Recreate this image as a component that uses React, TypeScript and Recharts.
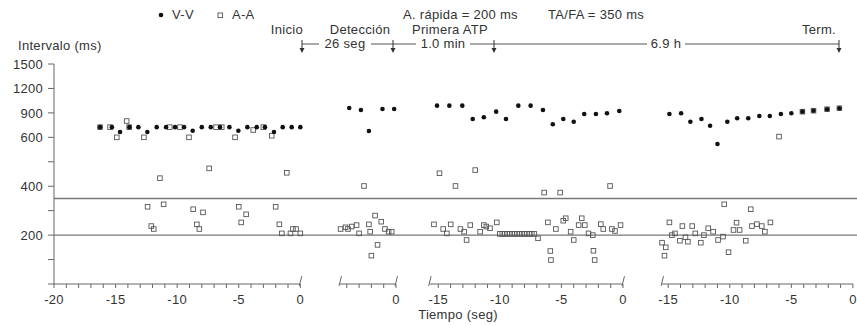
import React from 'react';
import { ScatterChart, Scatter, XAxis, YAxis, ReferenceLine } from 'recharts';

// ---------------- DATA (time in s relative to each event, interval in ms) ----------------
const panel1VV = [
  { t: -16.26, ms: 725 }, { t: -15.3, ms: 725 }, { t: -14.64, ms: 665 }, { t: -13.88, ms: 725 },
  { t: -13.15, ms: 725 }, { t: -12.42, ms: 665 }, { t: -11.66, ms: 725 }, { t: -10.9, ms: 725 },
  { t: -10.17, ms: 725 }, { t: -9.44, ms: 725 }, { t: -8.74, ms: 680 }, { t: -8.0, ms: 725 },
  { t: -7.27, ms: 725 }, { t: -6.52, ms: 725 }, { t: -5.76, ms: 725 }, { t: -5.03, ms: 680 },
  { t: -4.3, ms: 725 }, { t: -3.54, ms: 725 }, { t: -2.87, ms: 725 }, { t: -2.14, ms: 665 },
  { t: -1.43, ms: 725 }, { t: -0.7, ms: 725 }, { t: 0.0, ms: 725 },
];
const panel1AA = [
  { t: -16.26, ms: 725 }, { t: -15.45, ms: 725 }, { t: -14.9, ms: 600 }, { t: -14.1, ms: 800 },
  { t: -13.9, ms: 725 }, { t: -12.7, ms: 600 }, { t: -12.4, ms: 316 }, { t: -12.1, ms: 237 },
  { t: -11.9, ms: 225 }, { t: -11.4, ms: 433 }, { t: -11.1, ms: 326 }, { t: -10.6, ms: 725 },
  { t: -9.77, ms: 725 }, { t: -9.04, ms: 600 }, { t: -8.7, ms: 306 }, { t: -8.4, ms: 244 },
  { t: -8.2, ms: 225 }, { t: -7.9, ms: 293 }, { t: -7.4, ms: 473 }, { t: -6.84, ms: 725 },
  { t: -6.38, ms: 725 }, { t: -5.3, ms: 600 }, { t: -5.0, ms: 316 }, { t: -4.8, ms: 252 },
  { t: -4.4, ms: 285 }, { t: -3.82, ms: 690 }, { t: -3.0, ms: 725 }, { t: -2.32, ms: 620 },
  { t: -2.0, ms: 316 }, { t: -1.7, ms: 244 }, { t: -1.5, ms: 207 }, { t: -1.1, ms: 455 },
  { t: -0.8, ms: 207 }, { t: -0.6, ms: 225 }, { t: -0.35, ms: 225 }, { t: 0.0, ms: 207 },
];
const panel2VV = [
  { t: -3.8, ms: 960 }, { t: -2.85, ms: 936 }, { t: -2.2, ms: 678 }, { t: -1.1, ms: 948 }, { t: -0.15, ms: 948 },
];
const panel2AA = [
  { t: -4.5, ms: 225 }, { t: -4.1, ms: 232 }, { t: -3.9, ms: 225 }, { t: -3.6, ms: 235 },
  { t: -3.2, ms: 241 }, { t: -3.0, ms: 207 }, { t: -2.6, ms: 401 }, { t: -2.2, ms: 244 },
  { t: -2.1, ms: 214 }, { t: -2.0, ms: 116 }, { t: -1.7, ms: 280 }, { t: -1.5, ms: 160 },
  { t: -1.2, ms: 255 }, { t: -0.9, ms: 225 }, { t: -0.6, ms: 214 }, { t: -0.35, ms: 214 },
];
const panel3VV = [
  { t: -15.1, ms: 989 }, { t: -14.1, ms: 989 }, { t: -13.05, ms: 989 }, { t: -12.2, ms: 825 },
  { t: -11.3, ms: 846 }, { t: -10.3, ms: 915 }, { t: -9.5, ms: 825 }, { t: -8.5, ms: 989 },
  { t: -7.5, ms: 989 }, { t: -6.5, ms: 936 }, { t: -5.7, ms: 760 }, { t: -4.85, ms: 825 },
  { t: -4.0, ms: 792 }, { t: -3.15, ms: 887 }, { t: -2.2, ms: 887 }, { t: -1.3, ms: 895 },
  { t: -0.3, ms: 923 },
];
const panel3AA = [
  { t: -14.9, ms: 453 }, { t: -13.6, ms: 401 }, { t: -12.0, ms: 466 }, { t: -6.4, ms: 374 },
  { t: -5.1, ms: 374 }, { t: -1.05, ms: 401 },
  { t: -15.35, ms: 244 }, { t: -14.6, ms: 225 }, { t: -14.3, ms: 207 }, { t: -13.99, ms: 244 },
  { t: -13.2, ms: 225 }, { t: -12.9, ms: 214 }, { t: -12.7, ms: 180 }, { t: -12.4, ms: 241 },
  { t: -11.6, ms: 214 }, { t: -11.3, ms: 241 }, { t: -11.1, ms: 235 }, { t: -10.8, ms: 228 },
  { t: -10.25, ms: 252 },
  { t: -10.0, ms: 205 }, { t: -9.8, ms: 205 }, { t: -9.6, ms: 205 }, { t: -9.4, ms: 205 },
  { t: -9.2, ms: 205 }, { t: -9.0, ms: 205 }, { t: -8.8, ms: 205 }, { t: -8.6, ms: 205 },
  { t: -8.4, ms: 205 }, { t: -8.2, ms: 205 }, { t: -8.0, ms: 205 }, { t: -7.8, ms: 205 },
  { t: -7.6, ms: 205 }, { t: -7.4, ms: 205 }, { t: -7.2, ms: 205 },
  { t: -6.9, ms: 187 }, { t: -6.1, ms: 252 }, { t: -5.9, ms: 135 }, { t: -5.85, ms: 98 },
  { t: -5.45, ms: 225 }, { t: -4.85, ms: 259 }, { t: -4.65, ms: 269 }, { t: -4.25, ms: 214 },
  { t: -4.0, ms: 180 }, { t: -3.6, ms: 241 }, { t: -3.35, ms: 269 }, { t: -3.1, ms: 241 },
  { t: -2.8, ms: 207 }, { t: -2.45, ms: 200 }, { t: -2.4, ms: 136 }, { t: -2.3, ms: 98 },
  { t: -1.8, ms: 245 }, { t: -1.6, ms: 225 }, { t: -0.9, ms: 225 }, { t: -0.65, ms: 217 },
  { t: -0.2, ms: 241 },
];
const panel4VV = [
  { t: -14.9, ms: 887 }, { t: -13.95, ms: 895 }, { t: -13.2, ms: 792 }, { t: -12.3, ms: 825 },
  { t: -11.6, ms: 743 }, { t: -11.0, ms: 573 }, { t: -10.2, ms: 792 }, { t: -9.4, ms: 834 },
  { t: -8.5, ms: 834 }, { t: -7.6, ms: 862 }, { t: -6.75, ms: 862 }, { t: -5.85, ms: 887 },
  { t: -5.0, ms: 895 }, { t: -4.1, ms: 915 }, { t: -3.2, ms: 927 }, { t: -2.1, ms: 945 },
  { t: -1.1, ms: 957 },
];
const panel4AA = [
  { t: -4.1, ms: 915 }, { t: -3.2, ms: 927 }, { t: -2.1, ms: 945 }, { t: -1.1, ms: 957 },
  { t: -6.0, ms: 609 }, { t: -10.45, ms: 326 }, { t: -8.3, ms: 306 },
  { t: -14.9, ms: 252 }, { t: -15.5, ms: 169 }, { t: -15.2, ms: 150 }, { t: -15.3, ms: 116 },
  { t: -14.7, ms: 200 }, { t: -14.45, ms: 207 }, { t: -14.05, ms: 177 }, { t: -13.85, ms: 237 },
  { t: -13.6, ms: 191 }, { t: -13.4, ms: 173 }, { t: -13.05, ms: 237 }, { t: -12.8, ms: 207 },
  { t: -12.35, ms: 169 }, { t: -12.1, ms: 200 }, { t: -11.75, ms: 228 }, { t: -11.35, ms: 214 },
  { t: -10.95, ms: 180 }, { t: -10.55, ms: 194 }, { t: -10.1, ms: 130 }, { t: -9.7, ms: 221 },
  { t: -9.45, ms: 251 }, { t: -9.2, ms: 221 }, { t: -8.7, ms: 177 }, { t: -8.2, ms: 237 },
  { t: -7.8, ms: 245 }, { t: -7.4, ms: 237 }, { t: -7.15, ms: 214 }, { t: -6.7, ms: 252 },
];

// tick labels
const panel1Ticks = [-20, -19, -18, -17, -16, -15, -14, -13, -12, -11, -10, -9, -8, -7, -6, -5, -4, -3, -2, -1, 0];
const panel2Ticks = [-4, -3, -2, -1, 0];
const panel3Ticks = [-15, -14, -13, -12, -11, -10, -9, -8, -7, -6, -5, -4, -3, -2, -1, 0];
const panel4Ticks = [-15, -14, -13, -12, -11, -10, -9, -8, -7, -6, -5, -4, -3, -2, -1, 0];
const labeledSeconds = [-20, -15, -10, -5, 0];
const yTickMs = [0, 100, 200, 300, 400, 500, 600, 900, 1200, 1500];
const yLabeledMs = [200, 400, 600, 900, 1200, 1500];
const thresholdsMs = [350, 200];

// ---------------- LAYOUT ----------------
const W = 857;
const H = 326;
const PANEL_OFFSETS = [0, 7.77, 26.2, 44.87];
const PANEL_RANGES: [number, number][] = [[-20, 0], [-4.55, 0], [-15.7, 0], [-15.5, 0]];
const BREAKS: [number, number][] = [[0, 0], [1, -4.55], [1, 0], [2, -15.7], [2, 0], [3, -15.5]];
const X_DOMAIN: [number, number] = [-20, 45.2];
const FONT = '"Liberation Sans", Arial, Helvetica, sans-serif';
const AXIS = '#666';
const TEXT = '#333';
const FS = 13;
const LS = 0.3;

// piecewise interval axis: 100 ms per step up to 600, 300 ms per step above
const toUnits = (ms: number) => (ms <= 600 ? ms / 100 : 6 + (ms - 600) / 300);

const panelsVV = [panel1VV, panel2VV, panel3VV, panel4VV];
const panelsAA = [panel1AA, panel2AA, panel3AA, panel4AA];
const panelsTicks = [panel1Ticks, panel2Ticks, panel3Ticks, panel4Ticks];

const build = (panels: { t: number; ms: number }[][]) =>
  panels.flatMap((pts, i) => pts.map((d) => ({ x: d.t + PANEL_OFFSETS[i], y: toUnits(d.ms) })));

const vvData = build(panelsVV);
const aaData = build(panelsAA);

const xLabelMap = new Map<string, string>();
const xTicks: number[] = [];
panelsTicks.forEach((ticks, i) => {
  ticks.forEach((t) => {
    const v = t + PANEL_OFFSETS[i];
    xTicks.push(v);
    xLabelMap.set(v.toFixed(3), labeledSeconds.includes(t) && (i !== 1 || t === 0) ? String(t) : '');
  });
});
const yTicks = yTickMs.map(toUnits);
const yLabelMap = new Map<string, string>(
  yTickMs.map((ms) => [toUnits(ms).toFixed(3), yLabeledMs.includes(ms) ? String(ms) : ''])
);

const VVDot = (p: any) => <circle cx={p.cx} cy={p.cy} r={2.3} fill="#111" />;
const AASquare = (p: any) => (
  <rect x={p.cx - 2.3} y={p.cy - 2.3} width={4.6} height={4.6} fill="none" stroke="#555" strokeWidth={0.9} />
);

const Arrow = ({ x }: { x: number }) => (
  <g>
    <line x1={x} y1={40} x2={x} y2={50} stroke={TEXT} strokeWidth={1} />
    <polygon points={`${x - 2.5},48 ${x + 2.5},48 ${x},53`} fill={TEXT} />
  </g>
);

const HLine = ({ x1, x2 }: { x1: number; x2: number }) => (
  <line x1={x1} y1={44} x2={x2} y2={44} stroke="#555" strokeWidth={1} />
);

export default function App() {
  return (
    <div style={{ position: 'absolute', left: 0, top: 0, width: W, height: H, background: '#fff', fontFamily: FONT, letterSpacing: LS }}>
      <ScatterChart width={W} height={H} margin={{ top: 64, right: 0, bottom: 12, left: 0 }}>
        <XAxis
          dataKey="x"
          type="number"
          domain={X_DOMAIN}
          allowDataOverflow
          ticks={xTicks}
          interval={0}
          tickFormatter={(v: number) => xLabelMap.get(v.toFixed(3)) ?? ''}
          axisLine={false}
          tickLine={{ stroke: AXIS }}
          tickSize={4}
          tickMargin={7}
          height={30}
          tick={{ fill: TEXT, fontSize: FS }}
        />
        <YAxis
          dataKey="y"
          type="number"
          domain={[0, 9]}
          allowDataOverflow
          ticks={yTicks}
          interval={0}
          tickFormatter={(v: number) => yLabelMap.get(v.toFixed(3)) ?? ''}
          axisLine={{ stroke: AXIS }}
          tickLine={{ stroke: AXIS }}
          tickSize={6}
          tickMargin={5}
          width={54}
          tick={{ fill: TEXT, fontSize: FS }}
        />
        {thresholdsMs.map((ms) => (
          <ReferenceLine key={ms} y={toUnits(ms)} stroke="#777" strokeWidth={1.4} ifOverflow="visible" />
        ))}
        {PANEL_RANGES.map(([a, b], i) => (
          <ReferenceLine
            key={'ax' + i}
            segment={[{ x: a + PANEL_OFFSETS[i], y: 0 }, { x: b + PANEL_OFFSETS[i], y: 0 }]}
            stroke={AXIS}
            strokeWidth={1}
            ifOverflow="visible"
          />
        ))}
        {BREAKS.map(([i, t], k) => (
          <ReferenceLine
            key={'br' + k}
            segment={[{ x: t + PANEL_OFFSETS[i] - 0.08, y: -0.08 }, { x: t + PANEL_OFFSETS[i] + 0.12, y: 0.32 }]}
            stroke={AXIS}
            strokeWidth={1}
            ifOverflow="visible"
          />
        ))}
        <Scatter name="A-A" data={aaData} shape={AASquare} isAnimationActive={false} />
        <Scatter name="V-V" data={vvData} shape={VVDot} isAnimationActive={false} />
      </ScatterChart>
      <svg
        width={W}
        height={H}
        style={{ position: 'absolute', left: 0, top: 0, pointerEvents: 'none', fontFamily: FONT }}
      >
        <g fontSize={FS} fill={TEXT} letterSpacing={LS}>
          <circle cx={161} cy={15} r={2.3} fill="#111" />
          <text x={172} y={19}>V-V</text>
          <rect x={218} y={13} width={4.6} height={4.6} fill="none" stroke="#555" strokeWidth={0.9} />
          <text x={232} y={19}>A-A</text>
          <text x={403} y={19}>A. rápida = 200 ms</text>
          <text x={548} y={19}>TA/FA = 350 ms</text>

          <text x={303} y={34} textAnchor="end">Inicio</text>
          <text x={360} y={34} textAnchor="middle">Detección</text>
          <text x={412} y={34}>Primera ATP</text>
          <text x={802} y={34}>Term.</text>

          <text x={345} y={48} textAnchor="middle">26 seg</text>
          <text x={443} y={48} textAnchor="middle">1.0 min</text>
          <text x={666} y={48} textAnchor="middle">6.9 h</text>

          <text x={18} y={50}>Intervalo (ms)</text>
          <text x={458} y={319} textAnchor="middle">Tiempo (seg)</text>
        </g>
        <HLine x1={302} x2={319} />
        <HLine x1={371} x2={393} />
        <HLine x1={393} x2={416} />
        <HLine x1={470} x2={494} />
        <HLine x1={494} x2={647} />
        <HLine x1={685} x2={839} />
        <Arrow x={302} />
        <Arrow x={393} />
        <Arrow x={494} />
        <Arrow x={839} />
      </svg>
    </div>
  );
}
